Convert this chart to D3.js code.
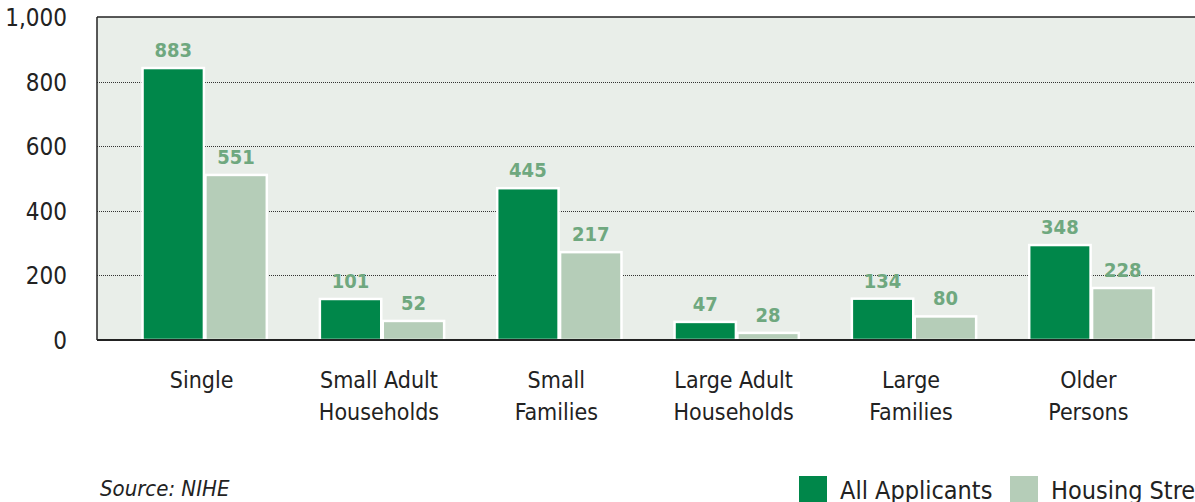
<!DOCTYPE html>
<html lang="en">
<head>
<meta charset="utf-8">
<title>Applicants by household type</title>
<script src="https://cdn.jsdelivr.net/npm/d3@7"></script>
<style>
  body { margin: 0; background: #fff; }
  text { font-family: "Liberation Sans Narrow", "DejaVu Sans Condensed", "Roboto Condensed", sans-serif; }
</style>
</head>
<body>
<script>
// categories and values
var categories = ["Single", "Small Adult\nHouseholds", "Small\nFamilies", "Large Adult\nHouseholds", "Large\nFamilies", "Older\nPersons"];
var series = ["All Applicants", "Housing Stress"];
// bar heights as drawn
var allApplicants = [842, 127, 470, 56, 128, 294];
var housingStress = [511, 59, 272, 22, 73, 161];
// value labels as printed
var allLabels = [883, 101, 445, 47, 134, 348];
var stressLabels = [551, 52, 217, 28, 80, 228];
var yTicks = [0, 200, 400, 600, 800, 1000];

var colors = ["#00874a", "#b5cdb8"];

var W = 1195, H = 502;
var plot = {left: 97, top: 17, bottom: 340, right: 1200};

var svg = d3.select("body").append("svg")
    .attr("width", W)
    .attr("height", H);

var y = d3.scaleLinear().domain([0, 1000]).range([plot.bottom, plot.top]);

var x0 = d3.scaleBand().domain(categories).range([116, 1180]).padding(0);
var x1 = d3.scaleBand().domain(series).range([0, x0.bandwidth()])
    .paddingInner(0).paddingOuter(0.41);

// plot background
svg.append("rect")
    .attr("x", plot.left).attr("y", plot.top)
    .attr("width", plot.right - plot.left)
    .attr("height", plot.bottom - plot.top)
    .attr("fill", "#e9eee9");

// dotted grid
svg.append("g").selectAll("line")
    .data(yTicks.filter(function(d) { return d > 0 && d < 1000; }))
    .enter().append("line")
    .attr("x1", plot.left).attr("x2", plot.right)
    .attr("y1", function(d) { return Math.round(y(d)) + 0.5; })
    .attr("y2", function(d) { return Math.round(y(d)) + 0.5; })
    .attr("stroke", "#333")
    .attr("stroke-width", 1)
    .attr("stroke-dasharray", "1,1");

var rows = categories.map(function(c, i) {
  return {cat: c, vals: [allApplicants[i], housingStress[i]], labels: [allLabels[i], stressLabels[i]]};
});

var groups = svg.append("g").selectAll("g")
    .data(rows)
    .enter().append("g")
    .attr("transform", function(d) { return "translate(" + x0(d.cat) + ",0)"; });

groups.selectAll("rect")
    .data(function(d) { return d.vals.map(function(v, k) { return {s: series[k], v: v, k: k}; }); })
    .enter().append("rect")
    .attr("x", function(d) { return x1(d.s) + 0.75; })
    .attr("width", x1.bandwidth() - 1.5)
    .attr("y", function(d) { return y(d.v); })
    .attr("height", function(d) { return plot.bottom - y(d.v); })
    .attr("fill", function(d) { return colors[d.k]; })
    .attr("stroke", "#fff")
    .attr("stroke-width", 2.5);

groups.selectAll("text.val")
    .data(function(d) { return d.vals.map(function(v, k) { return {s: series[k], v: v, lab: d.labels[k]}; }); })
    .enter().append("text")
    .attr("class", "val")
    .attr("x", function(d) { return x1(d.s) + x1.bandwidth() / 2; })
    .attr("y", function(d) { return y(d.v) - 11; })
    .attr("text-anchor", "middle")
    .attr("font-size", "20px")
    .attr("font-weight", "bold")
    .attr("fill", "#6fa87f")
    .text(function(d) { return d.lab; });

// frame: left, top and bottom
svg.append("line")
    .attr("x1", plot.left).attr("x2", plot.left)
    .attr("y1", plot.top).attr("y2", plot.bottom)
    .attr("stroke", "#222").attr("stroke-width", 1.5);
svg.append("line")
    .attr("x1", plot.left).attr("x2", plot.right)
    .attr("y1", plot.top).attr("y2", plot.top)
    .attr("stroke", "#222").attr("stroke-width", 1.5);
svg.append("line")
    .attr("x1", plot.left).attr("x2", plot.right)
    .attr("y1", plot.bottom).attr("y2", plot.bottom)
    .attr("stroke", "#222").attr("stroke-width", 2);

// y axis labels
svg.append("g").selectAll("text")
    .data(yTicks)
    .enter().append("text")
    .attr("x", 67)
    .attr("y", function(d) { return y(d) + 9; })
    .attr("text-anchor", "end")
    .attr("font-size", "24px")
    .attr("fill", "#222")
    .text(function(d) { return d3.format(",")(d); });

// category labels
var catText = svg.append("g").selectAll("text")
    .data(categories)
    .enter().append("text")
    .attr("text-anchor", "middle")
    .attr("font-size", "23px")
    .attr("fill", "#222")
    .attr("transform", function(d) { return "translate(" + (x0(d) + x0.bandwidth() / 2 - 3) + ",0)"; });
catText.selectAll("tspan")
    .data(function(d) { return d.split("\n"); })
    .enter().append("tspan")
    .attr("x", 0)
    .attr("y", function(d, i) { return 388 + i * 32; })
    .text(function(d) { return d; });

// source
svg.append("text")
    .attr("x", 100).attr("y", 496)
    .attr("font-size", "22px")
    .attr("font-style", "italic")
    .attr("fill", "#222")
    .text("Source: NIHE");

// legend
var legX = [799, 1010];
var leg = svg.append("g").selectAll("g")
    .data(series)
    .enter().append("g")
    .attr("transform", function(d, i) { return "translate(" + legX[i] + ",476)"; });
leg.append("rect")
    .attr("width", 28).attr("height", 28)
    .attr("fill", function(d, i) { return colors[i]; });
leg.append("text")
    .attr("x", 41).attr("y", 23)
    .attr("font-size", "25px")
    .attr("fill", "#222")
    .text(function(d) { return d; });
</script>
</body>
</html>
